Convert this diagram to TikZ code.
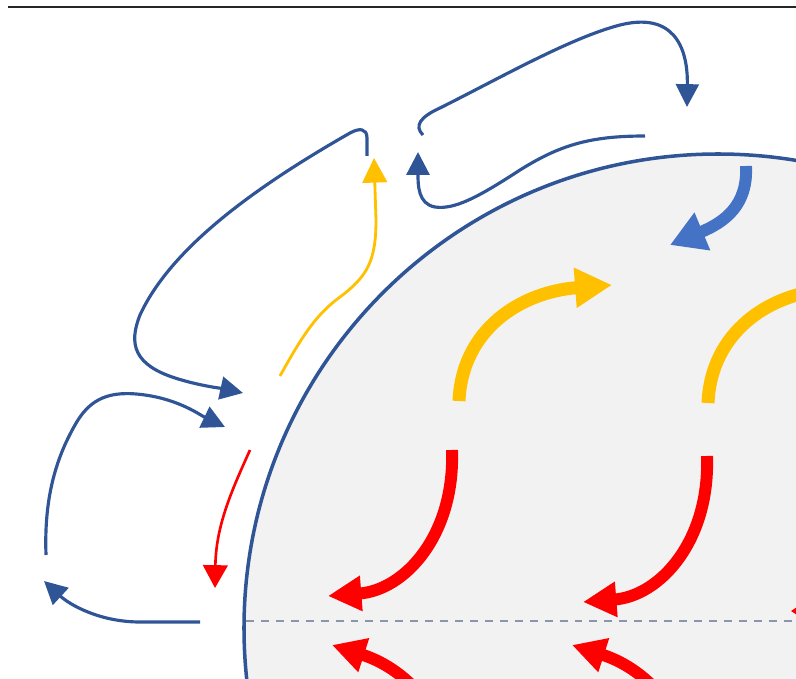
\documentclass[tikz,border=0pt]{standalone}
\usetikzlibrary{arrows.meta}
\definecolor{cellblue}{HTML}{2F5597}
\definecolor{jetblue}{HTML}{4472C4}
\definecolor{sunyellow}{HTML}{FFC000}
\definecolor{hotred}{HTML}{FF0000}
\definecolor{earthgrey}{HTML}{F2F2F2}
\definecolor{eqgrey}{HTML}{8A96AC}
\begin{document}
\begin{tikzpicture}[x=0.02cm,y=-0.02cm,
    thinblue/.style={draw=cellblue,line width=1.8pt,-{Triangle[length=13pt,width=13pt]}},
    thinred/.style={draw=hotred,line width=1.5pt,-{Triangle[length=13pt,width=14pt]}},
    thinyellow/.style={draw=sunyellow,line width=1.6pt,-{Triangle[length=14pt,width=14pt]}},
    fatyellow/.style={draw=sunyellow,line width=7.4pt,-{Triangle[length=21pt,width=21.5pt]}},
    fatred/.style={draw=hotred,line width=6.8pt,-{Triangle[length=19pt,width=19pt]}},
    fatblue/.style={draw=jetblue,line width=6.8pt,-{Triangle[length=20pt,width=22pt]}}]
    \useasboundingbox (0,0) rectangle (796,679);
    \clip (0,0) rectangle (796,679);
    \draw[line width=1.2pt,black!85] (8,7) -- (796,7);
    % globe + equator
    \fill[earthgrey] (718,628) circle (474);
    \draw[eqgrey,line width=0.7pt,dash pattern=on 4.5pt off 4pt] (246,621) -- (796,621);
    % cells inside
    \foreach \i/\dx/\dy in {1/0/0, 2/249/2}
    	\draw[fatyellow,shift={(\dx,\dy)}] (459,401) coordinate (ys\i) .. controls (462,330) and (520,292) .. (612,285) coordinate (ye\i);
    \foreach \i/\dx/\dy in {1/0/0, 2/255/6}
    	\draw[fatred,shift={(\dx,\dy)}] (452,450) coordinate (rs\i) .. controls (455,535) and (405,590) .. (328,596) coordinate (re\i);
    \foreach \i/\dx/\dy in {1/0/0, 2/240/0}
    	\draw[fatred,shift={(\dx,\dy)}] (460,800) coordinate (ls\i) .. controls (455,720) and (410,670) .. (332,645) coordinate (le\i);
    \coordinate (bs) at (746,166);
    \coordinate (be) at (670,245);
    \draw[fatblue] (bs) .. controls (748,205) and (725,222) .. (be);
    \fill[hotred] (791,611) -- (797,607) -- (797,615) -- cycle;
    \draw[cellblue,line width=2pt] (718,628) circle (474);
    % outer loops
    \coordinate (a1) at (645,136);  \coordinate (a2) at (418,152);
    \coordinate (b1) at (423,135);  \coordinate (b2) at (687,107);
    \coordinate (c1) at (367,156);  \coordinate (c2) at (243,393);
    \coordinate (d1) at (46,555);   \coordinate (d2) at (225,427);
    \coordinate (e1) at (200,622);  \coordinate (e2) at (44,581);
    \coordinate (f1) at (250,450);  \coordinate (f2) at (215,588);
    \coordinate (g1) at (280,376);  \coordinate (g2) at (374,158);
    \draw[thinblue] (a1) .. controls (590,136) and (560,145) .. (520,170) .. controls (480,196) and (455,210) .. (435,207) .. controls (418,204) and (418,185) .. (a2);
    \draw[thinblue] (b1) .. controls (414,126) and (420,117) .. (440,108) .. controls (500,78) and (570,38) .. (620,25) .. controls (672,12) and (688,45) .. (b2);
    \draw[thinblue] (c1) -- (367,138) .. controls (367,128) and (359,128) .. (350,133) .. controls (250,190) and (170,250) .. (140,315) .. controls (128,345) and (135,365) .. (175,378) .. controls (200,386) and (225,389) .. (c2);
    \draw[thinblue] (d1) .. controls (44,500) and (55,460) .. (75,425) .. controls (90,398) and (110,390) .. (145,395) .. controls (180,400) and (200,415) .. (d2);
    \draw[thinblue] (e1) -- (140,622) .. controls (100,622) and (70,605) .. (e2);
    \draw[thinred] (f1) .. controls (232,490) and (216,525) .. (f2);
    \draw[thinyellow] (g1) .. controls (300,340) and (315,315) .. (340,297) .. controls (368,276) and (376,260) .. (376,220) -- (g2);
\end{tikzpicture}
\end{document}
